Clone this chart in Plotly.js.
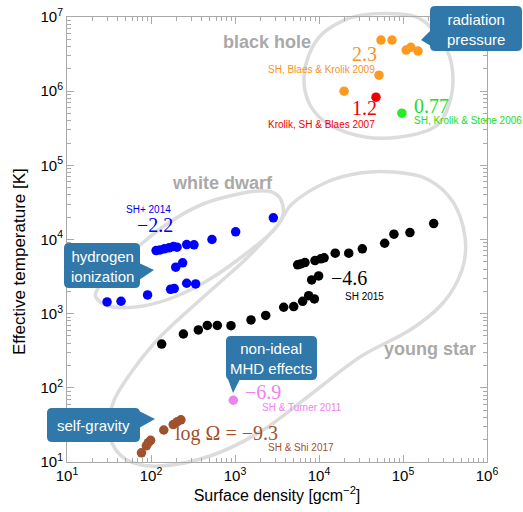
<!DOCTYPE html>
<html><head><meta charset="utf-8">
<script src="https://cdn.plot.ly/plotly-3.0.1.min.js"></script>
<style>html,body{margin:0;padding:0;background:#fff}#chart{width:523px;height:512px}</style>
</head><body><div id="chart"></div>
<script>
// ---- data (surface density [g cm^-2], effective temperature [K]) ----
const blaes2009X = [54700, 74000, 109000, 124000, 151000, 51800, 19900];
const blaes2009Y = [4.89e6, 4.89e6, 3.58e6, 3.90e6, 3.47e6, 1.64e6, 1.0e6];
const krolik2007X = [47700];
const krolik2007Y = [8.3e5];
const stone2006X = [97000];
const stone2006Y = [5.05e5];
const sh2014X = [2860, 1018, 532, 325, 266, 204, 185, 164, 144, 128, 115, 238, 197, 340, 266, 189, 171, 91, 44, 30];
const sh2014Y = [19600, 12700, 10000, 8470, 8550, 7870, 8040, 7730, 7480, 7240, 7100, 4840, 4230, 2520, 2570, 2180, 2130, 1790, 1470, 1440];
const sh2015X = [134, 243, 366, 468, 616, 896, 1550, 2320, 3800, 5000, 6390, 7540, 8810, 8180, 9900, 5570, 6050, 6810, 8960, 10500, 11500, 15600, 22600, 32800, 60500, 78000, 121000, 232000];
const sh2015Y = [389, 532, 603, 695, 695, 689, 822, 948, 1220, 1245, 1465, 1750, 1580, 2850, 3230, 4550, 4690, 4890, 5200, 5480, 5660, 6530, 6530, 7480, 8900, 11800, 12400, 16400];
const turner2011X = [955];
const turner2011Y = [68];
const shi2017X = [227, 206, 184, 142, 99, 93, 88, 77];
const shi2017Y = [37, 35, 32, 27, 19.6, 18.2, 16.5, 13.3];

const xTickVals = [10, 100, 1000, 1e4, 1e5, 1e6];
const xTickText = ['10<sup>1</sup>', '10<sup>2</sup>', '10<sup>3</sup>', '10<sup>4</sup>', '10<sup>5</sup>', '10<sup>6</sup>'];
const yTickVals = [10, 100, 1000, 1e4, 1e5, 1e6, 1e7];
const yTickText = ['10<sup>1</sup>', '10<sup>2</sup>', '10<sup>3</sup>', '10<sup>4</sup>', '10<sup>5</sup>', '10<sup>6</sup>', '10<sup>7</sup>'];

function minorVals(lo, hi) {
  const v = [];
  for (let e = lo; e < hi; e++) for (let m = 2; m <= 9; m++) v.push(m * Math.pow(10, e));
  return v;
}

// ---- geometry helpers (pixel -> paper) ----
const L = 67, R = 487, T = 17, B = 462;
const W = 523, H = 512;
const PX = x => (x - L) / (R - L);
const PY = y => (B - y) / (B - T);

function smoothClosed(pts) {
  const n = pts.length;
  const p = pts.map(q => [PX(q[0]), PY(q[1])]);
  let d = 'M' + p[0][0] + ',' + p[0][1];
  for (let i = 0; i < n; i++) {
    const p0 = p[(i - 1 + n) % n], p1 = p[i], p2 = p[(i + 1) % n], p3 = p[(i + 2) % n];
    const c1 = [p1[0] + (p2[0] - p0[0]) / 6, p1[1] + (p2[1] - p0[1]) / 6];
    const c2 = [p2[0] - (p3[0] - p1[0]) / 6, p2[1] - (p3[1] - p1[1]) / 6];
    d += ' C' + c1[0] + ',' + c1[1] + ' ' + c2[0] + ',' + c2[1] + ' ' + p2[0] + ',' + p2[1];
  }
  return d + ' Z';
}
function roundRect(x0, y0, x1, y1, r) {
  const pts = (a, b) => PX(a) + ',' + PY(b);
  return 'M' + pts(x0 + r, y0) + ' L' + pts(x1 - r, y0) + ' Q' + pts(x1, y0) + ' ' + pts(x1, y0 + r) +
    ' L' + pts(x1, y1 - r) + ' Q' + pts(x1, y1) + ' ' + pts(x1 - r, y1) +
    ' L' + pts(x0 + r, y1) + ' Q' + pts(x0, y1) + ' ' + pts(x0, y1 - r) +
    ' L' + pts(x0, y0 + r) + ' Q' + pts(x0, y0) + ' ' + pts(x0 + r, y0) + ' Z';
}
function tri(a, b, c) {
  return 'M' + PX(a[0]) + ',' + PY(a[1]) + ' L' + PX(b[0]) + ',' + PY(b[1]) + ' L' + PX(c[0]) + ',' + PY(c[1]) + ' Z';
}

const outlineStyle = {color: '#dcdcdc', width: 3.5};
const boxColor = '#2f78a9';
const shapes = [];
function outline(pts) {
  shapes.push({type: 'path', xref: 'paper', yref: 'paper', path: smoothClosed(pts), line: outlineStyle, layer: 'below'});
}
outline([[357,16],[400,14],[425,22],[447,50],[453,80],[447,110],[433,128],[400,137],[365,137],[330,125],[310,105],[304,77],[312,48],[327,30]]);
outline([[97,290],[115,268],[140,245],[170,222],[203,204],[243,193],[267,191],[280,198],[283,215],[273,231],[243,256],[210,279],[177,296],[143,306],[113,307],[98,300]]);
outline([[293,203],[327,182],[360,173],[393,172],[427,179],[453,202],[465,237],[462,270],[443,303],[410,330],[360,357],[310,395],[260,432],[210,456],[160,466],[127,460],[110,437],[113,403],[133,370],[160,337],[200,300],[247,258],[277,226]]);

function callout(x0, y0, x1, y1, t) {
  shapes.push({type: 'path', xref: 'paper', yref: 'paper', path: roundRect(x0, y0, x1, y1, 5), fillcolor: boxColor, line: {width: 0}, layer: 'above'});
  shapes.push({type: 'path', xref: 'paper', yref: 'paper', path: tri(t[0], t[1], t[2]), fillcolor: boxColor, line: {width: 0}, layer: 'above'});
}
callout(430, 6, 522, 51, [[431,30],[421,40],[431,46]]);
callout(64, 243, 140, 288, [[139,263],[154,270],[139,280]]);
callout(226, 336, 317, 380, [[228,379],[233,393],[240,379]]);
callout(47, 408, 140, 442, [[139,411],[155,419],[139,428]]);

const annotations = [];
function txt(x, y, text, color, size, family, anchor, bold, angle) {
  annotations.push({xref: 'paper', yref: 'paper', x: PX(x), y: PY(y), text: bold ? '<b>' + text + '</b>' : text,
    showarrow: false, xanchor: anchor || 'center', yanchor: 'middle', textangle: angle || 0,
    font: {color: color, size: size, family: family || 'Liberation Sans, Arial, sans-serif'}});
}
const serif = 'Liberation Serif, Times New Roman, serif';
// region labels
txt(267, 42, 'black hole', '#a9a9a9', 18, null, 'center', true);
txt(222, 183, 'white dwarf', '#a9a9a9', 18, null, 'center', true);
txt(430, 349, 'young star', '#a9a9a9', 18, null, 'center', true);
// callout texts
txt(476, 29, 'radiation<br>pressure', '#ffffff', 15);
txt(102, 266, 'hydrogen<br>ionization', '#ffffff', 15);
txt(271, 358, 'non-ideal<br>MHD effects', '#ffffff', 15);
txt(93, 425, 'self-gravity', '#ffffff', 15);
// values and references
txt(364, 54, '2.3', '#f7931e', 20, serif);
txt(321, 69, 'SH, Blaes &amp; Krolik 2009', '#f7931e', 10);
txt(364, 108, '1.2', '#ee0000', 20, serif);
txt(321, 124, 'Krolik, SH &amp; Blaes 2007', '#ee0000', 10);
txt(412, 106, '0.77', '#22dd22', 20, serif, 'left');
txt(412, 120, 'SH, Krolik &amp; Stone 2006', '#22dd22', 10, null, 'left');
txt(148, 209, 'SH+ 2014', '#0000ee', 10);
txt(155, 225, '−2.2', '#0000ee', 20, serif);
txt(349, 278, '−4.6', '#000000', 20, serif);
txt(364, 296, 'SH 2015', '#000000', 10);
txt(263, 392, '−6.9', '#ee82ee', 20, serif);
txt(302, 407, 'SH &amp; Turner 2011', '#ee82ee', 10);
txt(226, 433, 'log Ω = −9.3', '#a0522d', 20, serif);
txt(301, 447, 'SH &amp; Shi 2017', '#a0522d', 10);
// y-axis title
txt(19, 262, 'Effective temperature [K]', '#000000', 17, null, 'center', false, -90);

function pts(x, y, color) {
  return {x: x, y: y, type: 'scatter', mode: 'markers', marker: {color: color, size: 9.5, line: {width: 0}}, hoverinfo: 'x+y'};
}
const traces = [
  pts(blaes2009X, blaes2009Y, '#ff9a1f'),
  pts(krolik2007X, krolik2007Y, '#ee0000'),
  pts(stone2006X, stone2006Y, '#22ee22'),
  pts(sh2014X, sh2014Y, '#0000ff'),
  pts(sh2015X, sh2015Y, '#000000'),
  pts(turner2011X, turner2011Y, '#ee82ee'),
  pts(shi2017X, shi2017Y, '#a0522d')
];

const axisCommon = {
  type: 'log', showgrid: false, zeroline: false, showline: true, linecolor: '#aaaaaa', linewidth: 1,
  mirror: 'ticks', ticks: 'inside', ticklen: 7, tickcolor: '#aaaaaa', tickmode: 'array',
  tickfont: {size: 15, color: '#000', family: 'Liberation Sans, Arial, sans-serif'}
};
const layout = {
  width: W, height: H, margin: {l: L, r: W - R, t: T, b: H - B},
  paper_bgcolor: '#fff', plot_bgcolor: '#fff', showlegend: false,
  xaxis: Object.assign({}, axisCommon, {range: [1, 6], tickvals: xTickVals, ticktext: xTickText,
    minor: {ticks: 'inside', ticklen: 4, tickcolor: '#aaaaaa', tickmode: 'array', tickvals: minorVals(1, 6)},
    title: {text: 'Surface density [gcm<sup>−2</sup>]', font: {size: 16, color: '#000', family: 'Liberation Sans, Arial, sans-serif'}, standoff: 6}}),
  yaxis: Object.assign({}, axisCommon, {range: [1, 7], tickvals: yTickVals, ticktext: yTickText,
    minor: {ticks: 'inside', ticklen: 4, tickcolor: '#aaaaaa', tickmode: 'array', tickvals: minorVals(1, 7)}}),
  shapes: shapes, annotations: annotations
};
Plotly.newPlot('chart', traces, layout, {displayModeBar: false, staticPlot: true});
</script></body></html>
